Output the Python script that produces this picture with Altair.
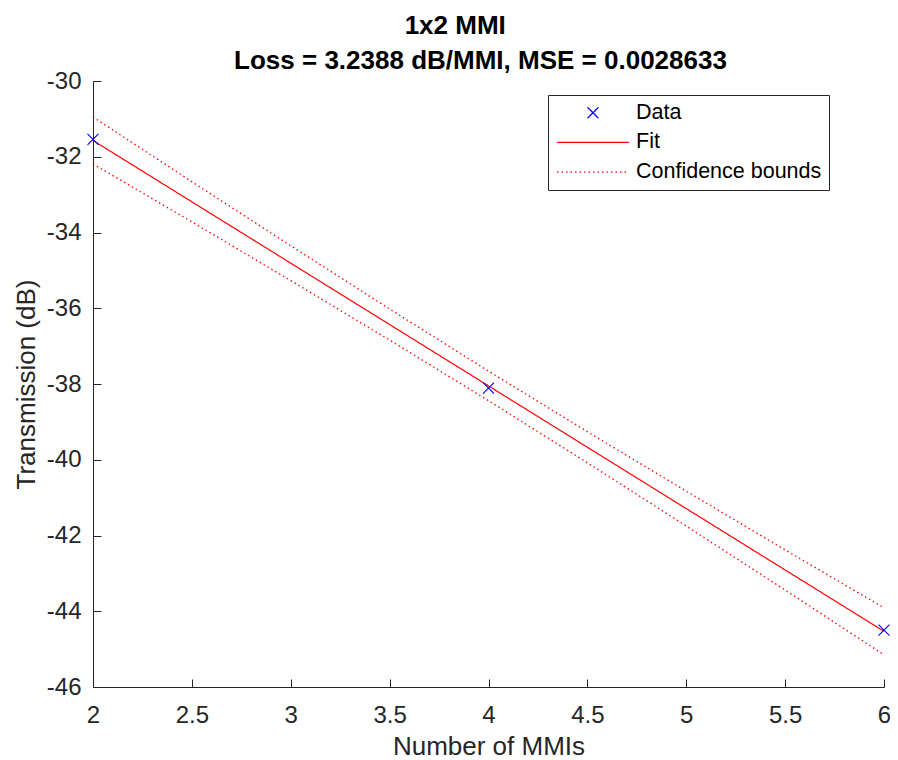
import altair as alt
import pandas as pd

# ---- data ----
series_names = ["Data", "Fit", "Confidence bounds"]
series_colors = ["#0000ff", "#ff0000", "#ff0000"]

x_data = [2, 4, 6]
y_data = [-31.54, -38.11, -44.50]

x_fit = [2, 2.5, 3, 3.5, 4, 4.5, 5, 5.5, 6]
y_fit = [-31.57, -33.19, -34.81, -36.43, -38.05, -39.67, -41.29, -42.91, -44.53]
y_upper = [-30.95, -32.66, -34.35, -36.02, -37.66, -39.26, -40.83, -42.38, -43.91]
y_lower = [-32.19, -33.72, -35.27, -36.84, -38.44, -40.08, -41.75, -43.44, -45.15]

x_ticks = [2, 2.5, 3, 3.5, 4, 4.5, 5, 5.5, 6]
y_ticks = [-46, -44, -42, -40, -38, -36, -34, -32, -30]

title_lines = ["1x2 MMI" + "\u00a0" * 7 + "\u200b", "Loss = 3.2388 dB/MMI, MSE = 0.0028633"]
x_title = "Number of MMIs"
y_title = "Transmission (dB)"

FONT = "Liberation Sans"
AX = "#262626"
W, H = 791, 606
PAD = {"left": 85, "top": 73, "right": 6, "bottom": 82}

# ---- tables ----
df_data = pd.DataFrame({"x": x_data, "y": y_data, "series": "Data"})
df_fit = pd.DataFrame({"x": x_fit, "y": y_fit, "series": "Fit"})
df_bounds = pd.concat([
    pd.DataFrame({"x": x_fit, "y": y_upper, "bound": "upper"}),
    pd.DataFrame({"x": x_fit, "y": y_lower, "bound": "lower"}),
], ignore_index=True)
df_bounds["series"] = "Confidence bounds"

xs = alt.Scale(domain=[2, 6], nice=False, zero=False)
ys = alt.Scale(domain=[-46, -30], nice=False, zero=False)

cross = "M-1.1,-1.1L1.1,1.1M-1.1,1.1L1.1,-1.1"
hline = "M-7.2,0H7.2"
color_scale = alt.Scale(domain=series_names, range=series_colors)
shape_scale = alt.Scale(domain=series_names, range=[cross, hline, hline])
dash_scale = alt.Scale(domain=series_names, range=[[1, 0], [1, 0], [1.5, 3]])

leg = alt.Legend(
    title=None, orient="none", legendX=455, legendY=14, padding=7,
    strokeColor=AX, fillColor="white", cornerRadius=0,
    labelFont=FONT, labelFontSize=21.5, labelColor="black", labelLimit=400,
    symbolSize=100, symbolStrokeWidth=1.3, symbolOffset=27.25, labelOffset=32.25,
    rowPadding=6.7,
)

label_expr = "'' + datum.value"

x_main = alt.Axis(
    values=x_ticks, labelExpr=label_expr, ticks=False, tickSize=0, grid=False,
    labelPadding=16, labelFont=FONT, labelFontSize=24, labelColor=AX,
    labelFlush=False, labelOverlap=False,
    domainColor=AX, domainWidth=1,
    title=x_title, titleFont=FONT, titleFontSize=26, titleFontWeight="normal",
    titleColor=AX, titleX=W / 2, titleY=67, titleBaseline="alphabetic", titleAlign="center",
)
y_main = alt.Axis(
    values=y_ticks, labelExpr=label_expr, ticks=False, tickSize=0, grid=False,
    labelPadding=12, labelFont=FONT, labelFontSize=24, labelColor=AX,
    labelOverlap=False,
    domainColor=AX, domainWidth=1,
    title=y_title, titleFont=FONT, titleFontSize=26, titleFontWeight="normal",
    titleColor=AX, titleX=-59, titleY=H / 2, titleBaseline="alphabetic",
    titleAlign="center", titleAngle=270,
)
x_ticks_in = alt.Axis(
    orient="top", offset=-H, values=x_ticks, labels=False, domain=False,
    ticks=True, tickSize=8, tickColor=AX, tickWidth=1, grid=False, title=None,
)
y_ticks_in = alt.Axis(
    orient="right", offset=-W, values=y_ticks, labels=False, domain=False,
    ticks=True, tickSize=8, tickColor=AX, tickWidth=1, grid=False, title=None,
)

bounds = alt.Chart(df_bounds).mark_line(strokeWidth=1.3).encode(
    x=alt.X("x:Q", scale=xs, axis=x_main),
    y=alt.Y("y:Q", scale=ys, axis=y_main),
    detail="bound:N",
    color=alt.Color("series:N", scale=color_scale, legend=leg),
    strokeDash=alt.StrokeDash("series:N", scale=dash_scale, legend=leg),
)

fit = alt.Chart(df_fit).mark_line(strokeWidth=1.2).encode(
    x=alt.X("x:Q", scale=xs, axis=x_ticks_in),
    y=alt.Y("y:Q", scale=ys, axis=y_ticks_in),
    color=alt.Color("series:N", scale=color_scale, legend=leg),
    strokeDash=alt.StrokeDash("series:N", scale=dash_scale, legend=leg),
)

points = alt.Chart(df_data).mark_point(filled=False, size=100, strokeWidth=1.1, opacity=1).encode(
    x=alt.X("x:Q", scale=xs, axis=None),
    y=alt.Y("y:Q", scale=ys, axis=None),
    color=alt.Color("series:N", scale=color_scale, legend=leg),
    shape=alt.Shape("series:N", scale=shape_scale, legend=leg),
)

chart = alt.layer(bounds, fit, points).resolve_axis(
    x="independent", y="independent"
).properties(
    width=W, height=H,
    autosize=alt.AutoSizeParams(type="none"),
    padding=PAD,
    title=alt.Title(
        text=title_lines, font=FONT, fontSize=26, fontWeight="bold", color="black",
        lineHeight=35, offset=-31, dx=-8, anchor="middle", baseline="bottom",
    ),
    background="white",
).configure_view(stroke="transparent")

chart.save("out.html", embed_options={"renderer": "svg", "actions": False})
